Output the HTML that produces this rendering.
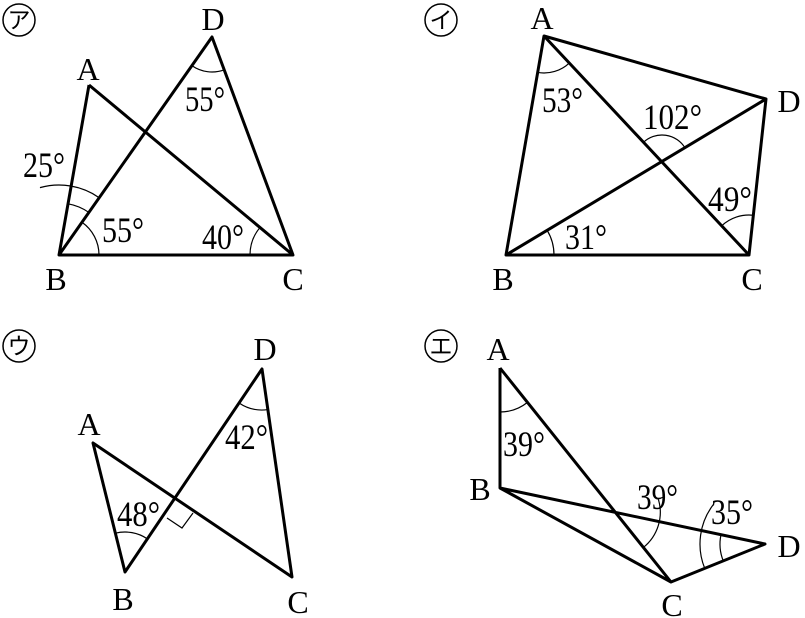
<!DOCTYPE html>
<html><head><meta charset="utf-8"><style>
html,body{margin:0;padding:0;background:#fff;}
svg{display:block;}
text{font-family:"Liberation Serif","Noto Serif CJK SC",serif;font-size:32px;fill:#000;}
.s{font-size:36px;}
.k{font-size:23px;font-family:"Noto Sans CJK JP",sans-serif;}
</style></head><body>
<svg id="g" width="805" height="618" viewBox="0 0 805 618" xmlns="http://www.w3.org/2000/svg">
<g stroke="#000" stroke-width="3" fill="none" stroke-linejoin="round">
<path d="M89,85 L59,255 L293,255 L89,85 M59,255 L212,37 L293,255"/>
<path d="M544,36 L766,99 L749,255 L506,255 Z M544,36 L749,255 M506,255 L766,99"/>
<path d="M93,443 L125,572 L262,369 L292,577 Z"/>
<path d="M500,368 L500,488 L671,582 L765,544 L500,488 M500,368 L671,582"/>
</g>
<g id="arcs" stroke="#000" stroke-width="1.2" fill="none"></g>
<path d="M167,518 L182,528 L193,513" stroke="#000" stroke-width="1.2" fill="none"/>
<g stroke="#000" stroke-width="1.5" fill="none">
<circle cx="19" cy="20" r="16"/><circle cx="441" cy="20" r="16"/>
<circle cx="19" cy="346" r="16"/><circle cx="441" cy="346" r="16"/>
</g>
<g text-anchor="middle">
<text class="k" x="19" y="28">ア</text><text class="k" x="441" y="28">イ</text>
<text class="k" x="19" y="354">ウ</text><text class="k" x="441" y="354">エ</text>
</g>
<g text-anchor="middle">
<text x="88" y="80">A</text><text x="213" y="30">D</text><text x="56" y="290">B</text><text x="293" y="290">C</text>
<text x="542" y="29">A</text><text x="789" y="112">D</text><text x="503" y="290">B</text><text x="752" y="290">C</text>
<text x="89" y="435">A</text><text x="265" y="360">D</text><text x="123" y="610">B</text><text x="298" y="613">C</text>
<text x="498" y="360">A</text><text x="480" y="500">B</text><text x="672" y="616">C</text><text x="789" y="557">D</text>
</g>
<g class="nums">
<text class="s" x="23" y="177" textLength="42" lengthAdjust="spacingAndGlyphs">25°</text>
<text class="s" x="185" y="111" textLength="40" lengthAdjust="spacingAndGlyphs">55°</text>
<text class="s" x="102" y="242" textLength="42" lengthAdjust="spacingAndGlyphs">55°</text>
<text class="s" x="202" y="249" textLength="42" lengthAdjust="spacingAndGlyphs">40°</text>
<text class="s" x="542" y="112" textLength="41" lengthAdjust="spacingAndGlyphs">53°</text>
<text class="s" x="643" y="129" textLength="59" lengthAdjust="spacingAndGlyphs">102°</text>
<text class="s" x="708" y="211" textLength="44" lengthAdjust="spacingAndGlyphs">49°</text>
<text class="s" x="565" y="249" textLength="42" lengthAdjust="spacingAndGlyphs">31°</text>
<text class="s" x="117" y="526" textLength="43" lengthAdjust="spacingAndGlyphs">48°</text>
<text class="s" x="225" y="449" textLength="43" lengthAdjust="spacingAndGlyphs">42°</text>
<text class="s" x="503" y="456" textLength="42" lengthAdjust="spacingAndGlyphs">39°</text>
<text class="s" x="637" y="509" textLength="41" lengthAdjust="spacingAndGlyphs">39°</text>
<text class="s" x="711" y="524" textLength="42" lengthAdjust="spacingAndGlyphs">35°</text>
</g>
</svg>
<script>
var g=document.getElementById('arcs'),s='';
function arc(cx,cy,p,q,r,ov){
 ov=ov||0;
 var a1=Math.atan2(p[1]-cy,p[0]-cx),a2=Math.atan2(q[1]-cy,q[0]-cx);
 var d=a2-a1;while(d>Math.PI)d-=2*Math.PI;while(d<-Math.PI)d+=2*Math.PI;
 var sg=d>0?1:-1; d+=sg*ov;
 var x1=cx+r*Math.cos(a1),y1=cy+r*Math.sin(a1),x2=cx+r*Math.cos(a1+d),y2=cy+r*Math.sin(a1+d);
 s+='<path d="M'+x1+','+y1+' A'+r+','+r+' 0 0,'+(d>0?1:0)+' '+x2+','+y2+'"/>';
}
arc(59,255,[212,37],[89,85],70,0.45);
arc(59,255,[89,85],[212,37],52);
arc(59,255,[212,37],[293,255],40);
arc(212,37,[59,255],[293,255],35);
arc(293,255,[89,85],[59,255],43);
arc(544,36,[506,255],[749,255],37);
arc(662,162,[544,36],[766,99],27);
arc(749,255,[544,36],[766,99],40);
arc(506,255,[766,99],[749,255],48);
arc(125,572,[93,443],[262,369],40);
arc(262,369,[125,572],[292,577],41);
arc(500,368,[500,488],[671,582],44);
arc(615.3,512.3,[671,582],[765,544],45,0.5);
arc(765,544,[671,582],[500,488],45);
arc(765,544,[671,582],[500,488],65,0.45);
g.innerHTML=s;
</script>
</body></html>
